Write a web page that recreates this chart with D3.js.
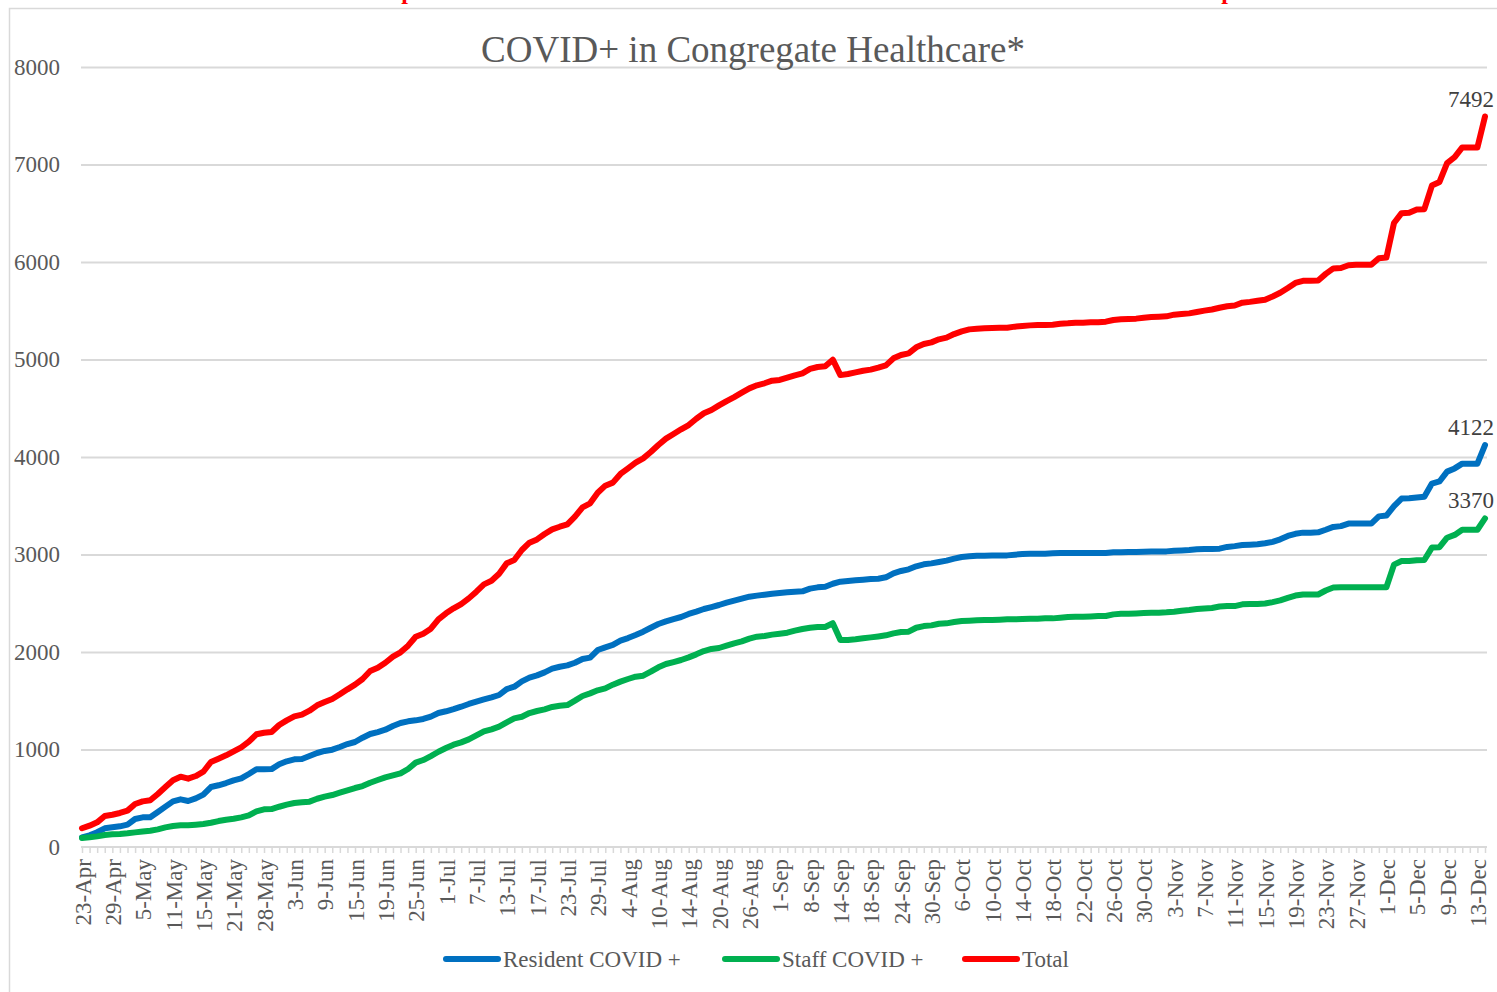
<!DOCTYPE html>
<html>
<head>
<meta charset="utf-8">
<script src="https://cdn.jsdelivr.net/npm/d3@7"></script>
<style>
  body { margin: 0; background: #fff; }
  svg text { font-family: "Liberation Serif", "Times New Roman", serif; }
</style>
</head>
<body>
<div id="chart"></div>
<script>
const width = 1497, height = 992;

// dates reported (weekdays until early Oct, then daily)
const apr = [23, 24, 27, 28, 29, 30];
const may = [1, 4, 5, 6, 7, 8, 11, 12, 13, 14, 15, 18, 19, 20, 21, 22, 26, 27, 28, 29];
const jun = [1, 2, 3, 4, 5, 8, 9, 10, 11, 12, 15, 16, 17, 18, 19, 22, 23, 24, 25, 26, 29, 30];
const jul = [1, 2, 3, 6, 7, 8, 9, 10, 13, 14, 15, 16, 17, 20, 21, 22, 23, 24, 27, 28, 29, 30, 31];
const aug = [3, 4, 5, 6, 7, 10, 11, 12, 13, 14, 17, 18, 19, 20, 21, 24, 25, 26, 27, 28, 31];
const sep = [1, 2, 3, 4, 8, 9, 10, 11, 14, 15, 16, 17, 18, 21, 22, 23, 24, 25, 28, 29, 30];
const oct = [1, 2, 5, 6, 7, 8, 9, 10, 11, 12, 13, 14, 15, 16, 17, 18, 19, 20, 21, 22, 23, 24, 25, 26, 27, 28, 29, 30, 31];
const nov = [1, 2, 3, 4, 5, 6, 7, 8, 9, 10, 11, 12, 13, 14, 15, 16, 17, 18, 19, 20, 21, 22, 23, 24, 25, 26, 27, 28, 29, 30];
const dec = [1, 2, 3, 4, 5, 6, 7, 8, 9, 10, 11, 12, 13, 14];

const months = [["Apr", apr], ["May", may], ["Jun", jun], ["Jul", jul], ["Aug", aug],
                ["Sep", sep], ["Oct", oct], ["Nov", nov], ["Dec", dec]];
const categories = months.flatMap(([m, days]) => days.map(d => d + "-" + m));

const resident = [
  99, 120, 151, 192, 202, 212, 229, 287, 304, 305, 359, 414, 468, 489, 472, 499, 537, 615, 633, 656,
  684, 704, 749, 797, 797, 799, 848, 879, 899, 903, 933, 964, 985, 998, 1026, 1056, 1077, 1121, 1159, 1179,
  1203, 1241, 1272, 1289, 1299, 1313, 1337, 1374, 1392, 1414, 1439, 1467, 1491, 1514, 1535, 1559, 1620, 1644, 1699, 1737,
  1760, 1791, 1829, 1849, 1863, 1890, 1928, 1942, 2020, 2048, 2072, 2116, 2143, 2174, 2208, 2249, 2287, 2314, 2338, 2359,
  2390, 2414, 2441, 2461, 2482, 2506, 2526, 2547, 2567, 2578, 2588, 2598, 2605, 2612, 2619, 2622, 2650, 2663, 2670, 2700,
  2721, 2728, 2735, 2742, 2748, 2752, 2766, 2807, 2831, 2848, 2879, 2899, 2909, 2923, 2937, 2957, 2974, 2981, 2988, 2988,
  2991, 2991, 2991, 2998, 3005, 3008, 3008, 3008, 3012, 3015, 3015, 3015, 3015, 3015, 3015, 3015, 3022, 3022, 3025, 3025,
  3029, 3032, 3032, 3032, 3039, 3042, 3046, 3053, 3056, 3056, 3060, 3078, 3086, 3097, 3101, 3105, 3115, 3130, 3156, 3190,
  3212, 3224, 3224, 3227, 3254, 3283, 3291, 3317, 3317, 3317, 3317, 3391, 3399, 3496, 3574, 3578, 3585, 3593, 3727, 3749,
  3850, 3883, 3932, 3932, 3932, 4122
];

const staff = [
  92, 99, 109, 123, 130, 133, 140, 150, 160, 167, 181, 201, 215, 222, 222, 229, 236, 249, 266, 280,
  290, 304, 324, 365, 386, 389, 413, 434, 451, 458, 465, 495, 516, 533, 557, 581, 605, 625, 659, 687,
  714, 735, 755, 800, 865, 892, 933, 977, 1015, 1049, 1073, 1104, 1145, 1186, 1207, 1234, 1278, 1319, 1336, 1374,
  1395, 1412, 1436, 1449, 1456, 1501, 1549, 1576, 1607, 1627, 1665, 1696, 1723, 1747, 1757, 1798, 1843, 1877, 1897, 1918,
  1945, 1976, 2010, 2031, 2041, 2065, 2089, 2109, 2137, 2157, 2164, 2178, 2188, 2198, 2219, 2236, 2249, 2256, 2256, 2295,
  2123, 2123, 2130, 2140, 2150, 2160, 2171, 2191, 2205, 2208, 2249, 2266, 2273, 2290, 2294, 2307, 2318, 2321, 2325, 2328,
  2328, 2331, 2335, 2335, 2338, 2342, 2342, 2345, 2345, 2352, 2358, 2362, 2362, 2365, 2369, 2369, 2386, 2393, 2393, 2396,
  2400, 2403, 2403, 2407, 2413, 2424, 2430, 2440, 2447, 2452, 2467, 2471, 2471, 2489, 2493, 2493, 2497, 2512, 2530, 2556,
  2579, 2590, 2590, 2590, 2631, 2661, 2664, 2664, 2664, 2664, 2664, 2664, 2664, 2896, 2933, 2933, 2940, 2944, 3071, 3075,
  3172, 3201, 3254, 3254, 3254, 3370
];

const total = [
  192, 219, 253, 318, 331, 349, 373, 441, 468, 479, 544, 615, 684, 721, 701, 728, 772, 872, 906, 940,
  981, 1022, 1080, 1156, 1172, 1179, 1251, 1299, 1340, 1357, 1398, 1453, 1487, 1518, 1566, 1617, 1665, 1723, 1805, 1839,
  1890, 1952, 1997, 2065, 2157, 2188, 2239, 2335, 2397, 2448, 2492, 2550, 2619, 2694, 2731, 2803, 2909, 2943, 3046, 3121,
  3155, 3210, 3258, 3285, 3309, 3388, 3484, 3525, 3634, 3706, 3737, 3826, 3884, 3942, 3986, 4051, 4123, 4188, 4236, 4284,
  4328, 4393, 4448, 4482, 4530, 4574, 4615, 4660, 4704, 4735, 4756, 4783, 4790, 4814, 4838, 4858, 4903, 4923, 4930, 4998,
  4840, 4851, 4868, 4885, 4896, 4916, 4940, 5012, 5046, 5063, 5125, 5159, 5176, 5207, 5224, 5261, 5289, 5309, 5316, 5320,
  5323, 5326, 5326, 5337, 5344, 5350, 5354, 5354, 5357, 5367, 5371, 5378, 5378, 5381, 5381, 5388, 5405, 5412, 5415, 5419,
  5429, 5436, 5439, 5443, 5460, 5467, 5473, 5487, 5501, 5513, 5531, 5546, 5554, 5583, 5591, 5602, 5613, 5647, 5684, 5733,
  5785, 5807, 5807, 5811, 5878, 5934, 5938, 5967, 5971, 5971, 5971, 6038, 6046, 6400, 6501, 6504, 6538, 6542, 6784, 6821,
  7015, 7075, 7175, 7175, 7175, 7492
];

const yTicks = [0, 1000, 2000, 3000, 4000, 5000, 6000, 7000, 8000];
const seriesNames = ["Resident COVID +", "Staff COVID +", "Total"];
const seriesColors = ["#0070C0", "#00B050", "#FF0000"];
const seriesValues = [resident, staff, total];

const svg = d3.select("#chart").append("svg")
  .attr("width", width)
  .attr("height", height);

// bits of red heading text cut off by the page edge (only descenders show)
[408, 1228].forEach(px => {
  svg.append("text")
    .attr("x", px)
    .attr("y", -1)
    .attr("text-anchor", "middle")
    .attr("fill", "#FF0000")
    .style("font-size", "24px")
    .style("font-weight", "bold")
    .text("p");
});

// chart frame
svg.append("rect")
  .attr("x", 9.5).attr("y", 8.5)
  .attr("width", width + 10).attr("height", height + 10)
  .attr("fill", "none")
  .attr("stroke", "#D9D9D9")
  .attr("stroke-width", 1.5);

const plotL = 81, plotR = 1487;

const x = d3.scalePoint()
  .domain(categories)
  .range([82, 1485]);

const y = d3.scaleLinear()
  .domain([0, 8000])
  .range([847, 67]);

// gridlines + y labels
const yAxis = svg.append("g")
  .attr("transform", `translate(${plotL},0)`)
  .call(d3.axisLeft(y).tickValues(yTicks).tickFormat(d3.format("d"))
    .tickSize(-(plotR - plotL)).tickPadding(21));
yAxis.select(".domain").remove();
yAxis.selectAll(".tick line")
  .attr("stroke", d => d === 0 ? "none" : "#D9D9D9")
  .attr("stroke-width", 2);
yAxis.selectAll(".tick text")
  .attr("fill", "#595959")
  .style("font-size", "23px");

// x axis line and category ticks
const xTicks = svg.append("g")
  .attr("transform", "translate(0,847)")
  .call(d3.axisBottom(x).tickSize(6).tickFormat(""));
xTicks.select(".domain").attr("stroke", "#D9D9D9").attr("stroke-width", 2)
  .attr("d", `M${plotL},0H${plotR}`);
xTicks.selectAll(".tick line").attr("stroke", "#D9D9D9").attr("stroke-width", 1.5);

// date labels every 4th category
const xLabels = svg.append("g")
  .attr("transform", "translate(0,847)")
  .call(d3.axisBottom(x).tickValues(categories.filter((c, i) => i % 4 === 0)).tickSize(0));
xLabels.select(".domain").remove();
xLabels.selectAll(".tick text")
  .attr("transform", "rotate(-90)")
  .attr("x", -12)
  .attr("y", 0)
  .attr("dy", "0.35em")
  .attr("text-anchor", "end")
  .attr("fill", "#595959")
  .style("font-size", "23px");

// lines
const line = d3.line()
  .x((d, i) => x(categories[i]))
  .y(d => y(d));

seriesValues.forEach((vals, k) => {
  svg.append("path")
    .datum(vals)
    .attr("d", line)
    .attr("fill", "none")
    .attr("stroke", seriesColors[k])
    .attr("stroke-width", 6)
    .attr("stroke-linejoin", "round")
    .attr("stroke-linecap", "round");

  const last = vals[vals.length - 1];
  svg.append("text")
    .attr("x", 1494)
    .attr("y", y(last) - 10)
    .attr("text-anchor", "end")
    .attr("fill", "#404040")
    .style("font-size", "23px")
    .text(last);
});

// title
svg.append("text")
  .attr("x", 753)
  .attr("y", 62)
  .attr("text-anchor", "middle")
  .attr("fill", "#595959")
  .style("font-size", "37px")
  .text("COVID+ in Congregate Healthcare*");

// legend
const legendX = [444, 723, 963];
const legend = svg.append("g");
seriesNames.forEach((name, k) => {
  const g = legend.append("g").attr("transform", `translate(${legendX[k]},959)`);
  g.append("line")
    .attr("x1", 2).attr("x2", 54)
    .attr("stroke", seriesColors[k])
    .attr("stroke-width", 6)
    .attr("stroke-linecap", "round");
  g.append("text")
    .attr("x", 59)
    .attr("y", 8)
    .attr("fill", "#595959")
    .style("font-size", "23px")
    .text(name);
});
</script>
</body>
</html>
